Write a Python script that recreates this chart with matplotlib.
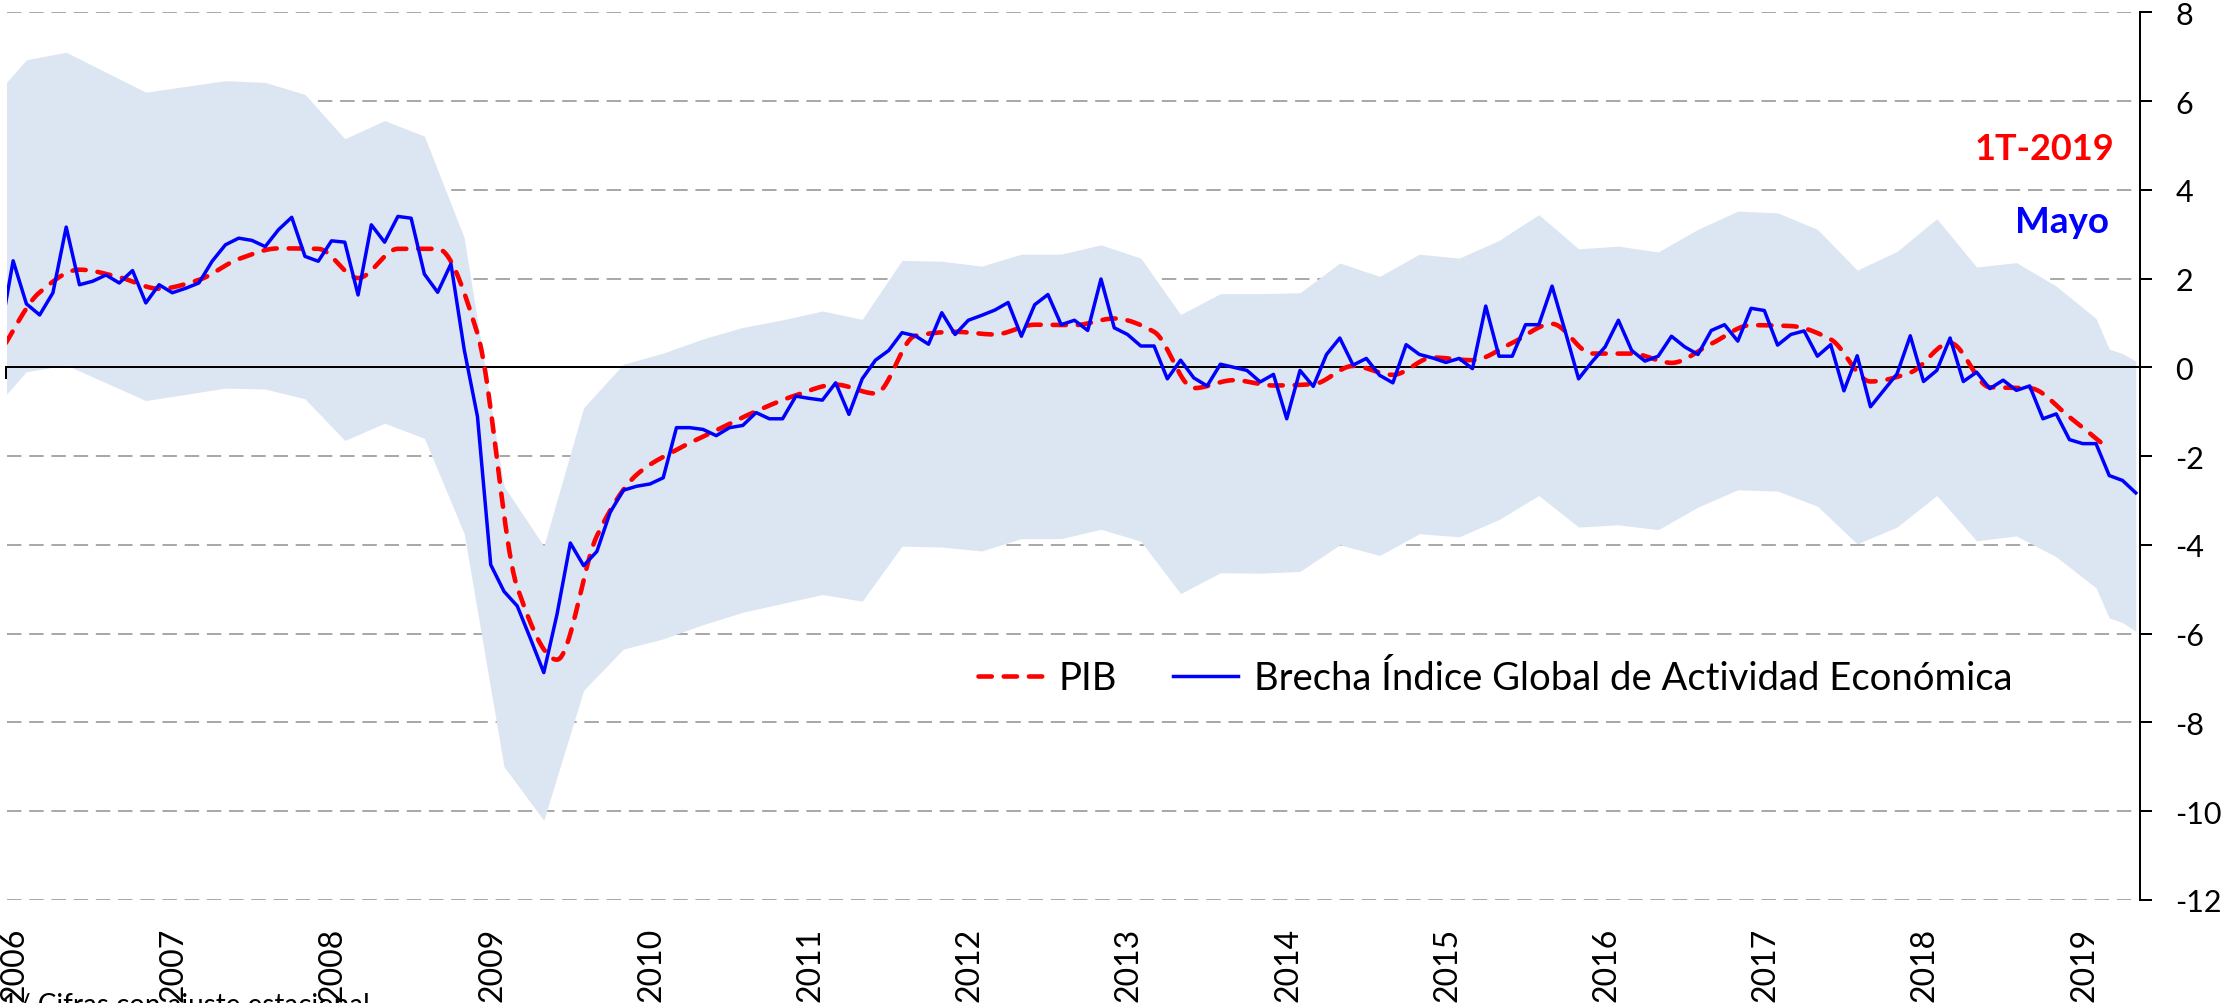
import numpy as np
import pandas as pd
import matplotlib
matplotlib.use("Agg")
import matplotlib.pyplot as plt
import matplotlib.transforms as mtransforms

# ---------------- data ----------------
# Monthly output-gap estimate from the IGAE (Dec-2005 .. May-2019)
blue_start, blue_end = "2005-12", "2019-05"
igae_gap = [
    0.70,
    2.40, 1.43, 1.18, 1.68, 3.16, 1.86, 1.94, 2.08, 1.90, 2.18, 1.45, 1.86,      # 2006
    1.68, 1.78, 1.90, 2.39, 2.76, 2.91, 2.86, 2.72, 3.10, 3.38, 2.50, 2.39,      # 2007
    2.85, 2.82, 1.63, 3.21, 2.82, 3.40, 3.36, 2.10, 1.69, 2.33, 0.40, -1.11,     # 2008
    -4.45, -5.05, -5.38, -6.12, -6.88, -5.56, -3.96, -4.47, -4.15, -3.27, -2.77, -2.68,  # 2009
    -2.63, -2.49, -1.36, -1.36, -1.40, -1.54, -1.36, -1.31, -1.02, -1.16, -1.16, -0.65,  # 2010
    -0.70, -0.74, -0.35, -1.06, -0.26, 0.16, 0.38, 0.78, 0.71, 0.52, 1.23, 0.74,  # 2011
    1.06, 1.17, 1.29, 1.46, 0.70, 1.41, 1.64, 0.96, 1.06, 0.83, 1.99, 0.89,      # 2012
    0.74, 0.48, 0.48, -0.26, 0.16, -0.24, -0.42, 0.07, 0.00, -0.07, -0.33, -0.16,  # 2013
    -1.16, -0.07, -0.43, 0.29, 0.66, 0.05, 0.20, -0.18, -0.35, 0.51, 0.29, 0.21,  # 2014
    0.11, 0.20, -0.03, 1.38, 0.25, 0.25, 0.96, 0.96, 1.83, 0.80, -0.26, 0.12,    # 2015
    0.46, 1.06, 0.38, 0.14, 0.25, 0.70, 0.46, 0.29, 0.83, 0.96, 0.59, 1.33,      # 2016
    1.28, 0.50, 0.74, 0.82, 0.25, 0.51, -0.53, 0.26, -0.89, -0.52, -0.15, 0.71,  # 2017
    -0.32, -0.07, 0.66, -0.32, -0.11, -0.48, -0.29, -0.52, -0.42, -1.16, -1.05, -1.63,  # 2018
    -1.72, -1.72, -2.44, -2.55, -2.83,                                           # 2019
]

# Quarterly GDP output gap (2005Q4 .. 2019Q1), plotted at quarter-end month
pib_start, pib_end = "2005Q4", "2019Q1"
pib_gap = [
    0.33,
    1.69, 2.20, 2.03, 1.77,
    1.97, 2.44, 2.68, 2.67,
    2.01, 2.67, 2.67, 0.76,
    -4.96, -6.59, -3.80, -2.42,
    -1.86, -1.42, -0.99, -0.63,
    -0.39, -0.59, 0.71, 0.80,
    0.74, 0.96, 0.95, 1.10,
    0.80, -0.47, -0.29, -0.41,
    -0.38, 0.03, -0.17, 0.22,
    0.16, 0.55, 0.98, 0.31,
    0.31, 0.10, 0.53, 0.95,
    0.93, 0.63, -0.32, -0.12,
    0.55, -0.45, -0.47, -1.12,
    -1.85,
]

# Confidence band: quarterly (mid-quarter month, 2005Q4..2019Q1) then monthly Mar-May 2019
band_q_start, band_q_end = "2005Q4", "2019Q1"
band_monthly_tail = ["2019-03", "2019-04", "2019-05"]
band_upper = [
    5.91,
    6.93, 7.10, 6.65, 6.20,
    6.33, 6.46, 6.42, 6.15,
    5.15, 5.56, 5.21, 2.92,
    -2.68, -4.03, -0.91, 0.07,
    0.32, 0.64, 0.90, 1.07,
    1.27, 1.08, 2.41, 2.39,
    2.28, 2.55, 2.55, 2.76,
    2.46, 1.19, 1.66, 1.66,
    1.68, 2.35, 2.05, 2.55,
    2.46, 2.86, 3.44, 2.67,
    2.73, 2.60, 3.11, 3.52,
    3.48, 3.11, 2.19, 2.61,
    3.35, 2.26, 2.36, 1.83,
    1.10,
    0.41, 0.31, 0.14,
]
band_lower = [
    -1.11,
    -0.10, 0.05, -0.35, -0.75,
    -0.61, -0.47, -0.49, -0.71,
    -1.65, -1.26, -1.60, -3.75,
    -9.00, -10.21, -7.28, -6.35,
    -6.12, -5.80, -5.52, -5.32,
    -5.12, -5.27, -4.03, -4.05,
    -4.14, -3.86, -3.86, -3.65,
    -3.92, -5.10, -4.63, -4.64,
    -4.60, -4.00, -4.24, -3.75,
    -3.82, -3.43, -2.89, -3.60,
    -3.55, -3.66, -3.15, -2.76,
    -2.79, -3.13, -3.98, -3.60,
    -2.89, -3.91, -3.80, -4.27,
    -4.97,
    -5.65, -5.75, -5.95,
]

year_labels = list(range(2006, 2020))
y_ticks = list(range(-12, 9, 2))
legend_labels = ["PIB", "Brecha Índice Global de Actividad Económica"]
note_pib = "1T-2019"
note_igae = "Mayo"
footnote = "1/ Cifras con ajuste estacional"

# ---------------- positions (decimal years, mid-month) ----------------
def month_pos(periods):
    return np.array([p.year + (p.month - 0.5) / 12.0 for p in periods])

blue_x = month_pos(pd.period_range(blue_start, blue_end, freq="M"))
pib_x = np.array([q.year + (q.quarter * 3 - 0.5) / 12.0
                  for q in pd.period_range(pib_start, pib_end, freq="Q")])
band_x = np.concatenate([
    np.array([q.year + (q.quarter * 3 - 1.5) / 12.0
              for q in pd.period_range(band_q_start, band_q_end, freq="Q")]),
    month_pos([pd.Period(m, freq="M") for m in band_monthly_tail]),
])


def smooth(x, y, n=20):
    """Monotone cubic (Fritsch-Carlson) smoothing through the data points."""
    x = np.asarray(x, float)
    y = np.asarray(y, float)
    h = np.diff(x)
    d = np.diff(y) / h
    m = np.zeros_like(y)
    m[0], m[-1] = d[0], d[-1]
    for k in range(1, len(y) - 1):
        if d[k - 1] * d[k] <= 0:
            m[k] = 0.0
        else:
            w1 = 2 * h[k] + h[k - 1]
            w2 = h[k] + 2 * h[k - 1]
            m[k] = (w1 + w2) / (w1 / d[k - 1] + w2 / d[k])
    xs, ys = [], []
    t = np.linspace(0, 1, n, endpoint=False)
    for k in range(len(y) - 1):
        h00 = 2 * t ** 3 - 3 * t ** 2 + 1
        h10 = t ** 3 - 2 * t ** 2 + t
        h01 = -2 * t ** 3 + 3 * t ** 2
        h11 = t ** 3 - t ** 2
        xs.append(x[k] + t * h[k])
        ys.append(h00 * y[k] + h10 * h[k] * m[k] + h01 * y[k + 1] + h11 * h[k] * m[k + 1])
    xs.append([x[-1]])
    ys.append([y[-1]])
    return np.concatenate(xs), np.concatenate(ys)


# ---------------- figure ----------------
plt.rcParams["font.family"] = ["Lato", "DejaVu Sans"]
plt.rcParams["axes.unicode_minus"] = False

W, H = 2231, 1004
fig = plt.figure(figsize=(W / 100, H / 100), dpi=100)
ax_left, ax_right, ax_top, ax_bottom = 6.5, 2140.0, 13.3, 900.8
ax = fig.add_axes([ax_left / W, (H - ax_bottom) / H,
                   (ax_right - ax_left) / W, (ax_bottom - ax_top) / H])

ax.fill_between(band_x, band_lower, band_upper, color="#DCE6F2", lw=0, zorder=1)

sx, sy = smooth(pib_x, pib_gap)
ax.plot(sx, sy, color="#FF0000", lw=3.3, ls=(0, (2.9, 2.6)),
        dash_capstyle="round", zorder=3, label=legend_labels[0])
ax.plot(blue_x, igae_gap, color="#0000FF", lw=2.5, zorder=4,
        label=legend_labels[1])

ax.set_xlim(2006.0, 2006.0 + (ax_right - ax_left) / 159.2)
ax.set_ylim(-12, 8)

# grid
ax.set_yticks(y_ticks)
ax.set_yticklabels([str(v) for v in y_ticks])
ax.yaxis.grid(True, color="#A0A0A0", lw=1.3, ls=(0, (8, 4.3)))
ax.set_axisbelow(True)

# spines
ax.spines["left"].set_visible(False)
ax.spines["top"].set_visible(False)
ax.spines["bottom"].set_position(("data", 0))
ax.spines["bottom"].set_linewidth(1.44)
ax.spines["bottom"].set_zorder(2.5)
ax.spines["right"].set_linewidth(1.44)

ax.yaxis.tick_right()
ax.tick_params(axis="y", direction="out", length=8.6, width=1.44, pad=17,
               labelsize=22, colors="black")
ax.set_xticks(year_labels)
ax.set_xticklabels([])
ax.tick_params(axis="x", direction="out", length=8.6, width=1.44)

trans = mtransforms.blended_transform_factory(ax.transData, ax.transAxes)
for yr in year_labels:
    ax.text(yr + 0.05, -0.0306, str(yr), rotation=90, ha="center", va="top",
            fontsize=23, transform=trans, clip_on=False)

ax.legend(loc="center left", bbox_to_anchor=(978 / W, 1 - 679 / H),
          bbox_transform=fig.transFigure, ncol=2, frameon=False, fontsize=27.5,
          handlelength=1.7, handletextpad=0.42, columnspacing=1.45,
          borderpad=0, borderaxespad=0)

fig.text(2114 / W, 1 - 160 / H, note_pib, ha="right", va="baseline",
         color="#FF0000", fontsize=26, fontweight="bold")
fig.text(2109 / W, 1 - 233 / H, note_igae, ha="right", va="baseline",
         color="#0000FF", fontsize=26.5, fontweight="bold")
fig.text(2 / W, 1 - 1014 / H, footnote, ha="left", va="baseline", fontsize=20)

fig.savefig("out.png", dpi=100)
